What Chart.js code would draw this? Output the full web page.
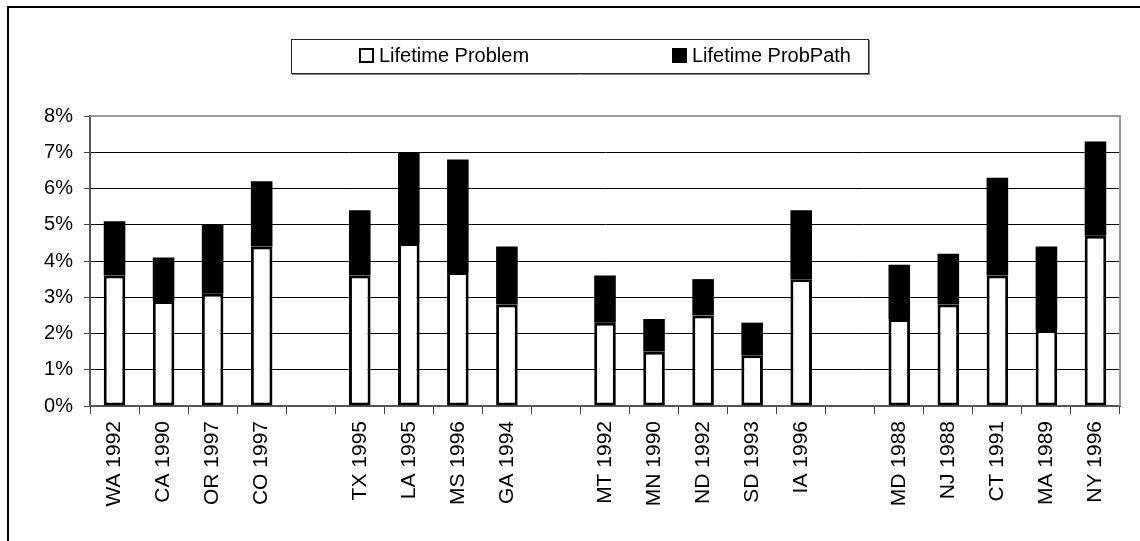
<!DOCTYPE html>
<html>
<head>
<meta charset="utf-8">
<script src="https://cdn.jsdelivr.net/npm/chart.js@4/dist/chart.umd.min.js"></script>
<style>
  html, body { margin: 0; padding: 0; background: #fff; }
  #wrap { width: 1140px; height: 541px; position: relative; }
</style>
</head>
<body>
<div id="wrap"><canvas id="c" width="1140" height="541"></canvas></div>
<script>
// Categories (empty strings are the gaps between state groups)
const categories = [
  'WA 1992', 'CA 1990', 'OR 1997', 'CO 1997', '',
  'TX 1995', 'LA 1995', 'MS 1996', 'GA 1994', '',
  'MT 1992', 'MN 1990', 'ND 1992', 'SD 1993', 'IA 1996', '',
  'MD 1988', 'NJ 1988', 'CT 1991', 'MA 1989', 'NY 1996'
];
// Lifetime Problem (lower, white segment), in %
const lifetimeProblem = [
  3.6, 2.9, 3.1, 4.4, null,
  3.6, 4.5, 3.7, 2.8, null,
  2.3, 1.5, 2.5, 1.4, 3.5, null,
  2.4, 2.8, 3.6, 2.1, 4.7
];
// Lifetime ProbPath (upper, black segment stacked on top), in %
const lifetimeProbPath = [
  1.5, 1.2, 1.9, 1.8, null,
  1.8, 2.5, 3.1, 1.6, null,
  1.3, 0.9, 1.0, 0.9, 1.9, null,
  1.5, 1.4, 2.7, 2.3, 2.6
];
const yTicks = [0, 1, 2, 3, 4, 5, 6, 7, 8];
const seriesNames = ['Lifetime Problem', 'Lifetime ProbPath'];

const FONT = 'Liberation Sans, Arial, sans-serif';

const framePlugin = {
  id: 'frame',
  afterDraw(chart) {
    const ctx = chart.ctx;
    const a = chart.chartArea;
    ctx.save();
    // outer frame (cropped on right and bottom)
    ctx.strokeStyle = '#000';
    ctx.lineWidth = 2;
    ctx.beginPath();
    ctx.moveTo(8, 600); ctx.lineTo(8, 7); ctx.lineTo(1200, 7);
    ctx.stroke();
    // plot area top/right border
    ctx.strokeStyle = '#999';
    ctx.lineWidth = 2;
    ctx.beginPath();
    ctx.moveTo(a.left, a.top); ctx.lineTo(a.right, a.top); ctx.lineTo(a.right, a.bottom);
    ctx.stroke();
    // legend box
    ctx.strokeStyle = '#222';
    ctx.lineWidth = 1;
    ctx.strokeRect(291.5, 39.5, 577, 34);
    ctx.strokeStyle = '#888';
    ctx.beginPath();
    ctx.moveTo(292, 74.5); ctx.lineTo(869, 74.5);
    ctx.moveTo(869.5, 40); ctx.lineTo(869.5, 75);
    ctx.stroke();
    // legend items
    const ds = chart.data.datasets;
    const xs = [359, 672];
    const cy = 56;
    ctx.font = '20px ' + FONT;
    ctx.textBaseline = 'middle';
    ctx.textAlign = 'left';
    ds.forEach((d, i) => {
      const x = xs[i];
      ctx.fillStyle = d.backgroundColor;
      ctx.fillRect(x, cy - 8, 15, 15);
      ctx.strokeStyle = '#000';
      ctx.lineWidth = 2;
      ctx.strokeRect(x + 1, cy - 7, 13, 13);
      ctx.fillStyle = '#000';
      ctx.fillText(d.label, x + 20, cy);
    });
    ctx.restore();
  }
};

new Chart(document.getElementById('c'), {
  type: 'bar',
  data: {
    labels: categories,
    datasets: [
      {
        label: seriesNames[0],
        data: lifetimeProblem,
        backgroundColor: '#ffffff',
        borderColor: '#000000',
        borderWidth: 3,
        borderSkipped: false,
        barPercentage: 0.44,
        categoryPercentage: 1.0,
        stack: 's'
      },
      {
        label: seriesNames[1],
        data: lifetimeProbPath,
        backgroundColor: '#000000',
        borderColor: '#000000',
        borderWidth: 0,
        barPercentage: 0.44,
        categoryPercentage: 1.0,
        stack: 's'
      }
    ]
  },
  options: {
    responsive: false,
    animation: false,
    layout: { padding: { left: 0, top: 116, right: 20, bottom: 0 } },
    plugins: {
      legend: { display: false },
      tooltip: { enabled: false },
      title: { display: false }
    },
    scales: {
      x: {
        stacked: true,
        offset: true,
        afterFit(scale) { scale.height = 135; },
        grid: {
          offset: true,
          drawOnChartArea: false,
          drawTicks: true,
          tickLength: 8,
          color: '#444',
          lineWidth: 1
        },
        border: { display: true, color: '#555', width: 2 },
        ticks: {
          autoSkip: false,
          maxRotation: 90,
          minRotation: 90,
          padding: 7,
          color: '#000',
          font: { family: FONT, size: 21 }
        }
      },
      y: {
        stacked: true,
        min: 0,
        max: 8,
        afterFit(scale) { scale.width = 90; },
        afterBuildTicks(scale) { scale.ticks = yTicks.map(v => ({ value: v })); },
        grid: {
          color: (c) => (c.tick && c.tick.value === 8) ? '#999' : '#000',
          lineWidth: 1,
          drawTicks: true,
          tickLength: 6,
          tickColor: '#444'
        },
        border: { display: true, color: '#555', width: 2 },
        ticks: {
          padding: 11,
          color: '#000',
          font: { family: FONT, size: 20 },
          callback: (v) => v + '%'
        }
      }
    }
  },
  plugins: [framePlugin]
});
</script>
</body>
</html>
